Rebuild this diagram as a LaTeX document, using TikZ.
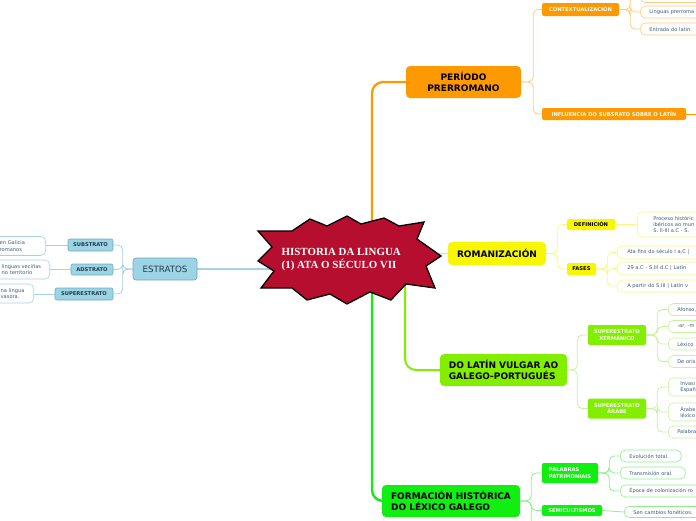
\documentclass[tikz,border=0pt]{standalone}
\usepackage{fontspec}
\setmainfont{DejaVu Sans}
\newfontfamily\rootfont{Liberation Serif}
\usetikzlibrary{backgrounds}
\definecolor{cOr}{HTML}{FF9900}
\definecolor{cOrL}{HTML}{FFCC80}
\definecolor{cYe}{HTML}{F7F700}
\definecolor{cYeL}{HTML}{F8F880}
\definecolor{cLi}{HTML}{82EE00}
\definecolor{cLiL}{HTML}{C6F29C}
\definecolor{cGr}{HTML}{11EE11}
\definecolor{cGrL}{HTML}{8EEE8E}
\definecolor{cBl}{HTML}{9DD4E5}
\definecolor{cBlD}{HTML}{6FA9C0}
\definecolor{cBlL}{HTML}{A8D2E3}
\definecolor{cRed}{HTML}{B50E2E}
\definecolor{cTxt}{HTML}{3C5C7C}
\definecolor{cDark}{HTML}{243A4A}
\tikzset{
  mainnode/.style={rounded corners=4pt, align=center, font=\fontsize{9}{11}\selectfont\bfseries, inner sep=0pt, text=black},
  subnode/.style={rounded corners=2pt, align=center, font=\fontsize{5.2}{6.4}\selectfont\bfseries, inner sep=0pt},
  bsub/.style={subnode, draw=cBlD, fill=cBl, text=cDark, line width=0.6pt},
  leaf/.style={draw, fill=white, rounded corners=5pt, line width=0.6pt, inner ysep=0pt, align=left, font=\fontsize{5.1}{6.5}\selectfont, text=cTxt},
  conn/.style={rounded corners=5pt, line width=0.8pt},
  trunk/.style={rounded corners=11pt, line width=2.2pt},
}
\begin{document}
\begin{tikzpicture}[x=1pt,y=-1pt]
\useasboundingbox (0,0) rectangle (696,520);
\clip (0,0) rectangle (696,520);
\coordinate (rc) at (349,262);
% ---------- orange branch
\node[mainnode, fill=cOr, minimum width=115, minimum height=32] (peri) at (463.5,82) {PERÍODO\\PRERROMANO};
\node[subnode, fill=cOr, text=white, minimum width=77, minimum height=13] (ctx) at (580.5,9.5) {CONTEXTUALIZACIÓN};
\node[subnode, fill=cOr, text=white, minimum width=144, minimum height=12] (infl) at (614,114) {INFLUENCIA DO SUBSRATO SOBRE O LATÍN};
\node[leaf, draw=cOrL, anchor=west, minimum height=13, inner xsep=9pt, text width=62pt] (lo0) at (640,-4) {};
\node[leaf, draw=cOrL, anchor=west, minimum height=12, inner xsep=9pt, text width=62pt] (lo1) at (640,12) {Linguas~prerroma};
\node[leaf, draw=cOrL, anchor=west, minimum height=12, inner xsep=9pt, text width=62pt] (lo2) at (640,29) {Entrada~do~latín};
\coordinate (offR) at (705,114);
% ---------- yellow branch
\node[mainnode, fill=cYe, minimum width=98, minimum height=23] (roman) at (497,253.5) {ROMANIZACIÓN};
\node[subnode, fill=cYe, text=black, minimum width=48, minimum height=11] (def) at (591,224.5) {DEFINICIÓN};
\node[subnode, fill=cYe, text=black, minimum width=29, minimum height=12] (fases) at (581.5,269) {FASES};
\node[leaf, draw=cYeL, anchor=west, minimum height=25, inner xsep=16pt, text width=71pt, font=\fontsize{5.1}{6.3}\selectfont] (ldef) at (637,224.5) {Proceso~históric\\ibéricos~ao~mun\\S.~II-III~a.C~-~S.};
\node[leaf, draw=cYeL, anchor=west, minimum height=13, inner xsep=10pt, text width=83pt] (ly1) at (617,252.5) {Ata~fins~do~século~I~a.C~|};
\node[leaf, draw=cYeL, anchor=west, minimum height=13, inner xsep=10pt, text width=83pt] (ly2) at (617,268.5) {29~a.C~-~S.III~d.C~|~Latín};
\node[leaf, draw=cYeL, anchor=west, minimum height=12, inner xsep=10pt, text width=83pt] (ly3) at (617,286) {A~partir~do~S.III~|~Latín~v};
% ---------- lime branch
\node[mainnode, fill=cLi, align=left, minimum width=127, minimum height=32] (latin) at (503.5,370) {DO LATÍN VULGAR AO\\GALEGO-PORTUGUÉS};
\node[subnode, fill=cLi, text=white, minimum width=58, minimum height=20] (xer) at (617,335) {SUPERESTRATO\\XERMÁNICO};
\node[subnode, fill=cLi, text=white, minimum width=58, minimum height=20] (ara) at (617,408.5) {SUPERESTRATO\\ÁRABE};
\node[leaf, draw=cLiL, anchor=west, minimum height=12, inner xsep=9pt, text width=54pt] (lx1) at (668,309.5) {Afonso,};
\node[leaf, draw=cLiL, anchor=west, minimum height=12, inner xsep=9pt, text width=54pt] (lx2) at (668,326.5) {-ar,~-m};
\node[leaf, draw=cLiL, anchor=west, minimum height=12, inner xsep=9pt, text width=54pt] (lx3) at (668,344) {Léxico};
\node[leaf, draw=cLiL, anchor=west, minimum height=12, inner xsep=9pt, text width=54pt] (lx4) at (668,361.5) {De~orix};
\node[leaf, draw=cLiL, anchor=west, minimum height=18, inner xsep=12pt, text width=48pt] (la1) at (668,387) {Invasi\\Españ};
\node[leaf, draw=cLiL, anchor=west, minimum height=18, inner xsep=12pt, text width=48pt] (la2) at (668,412) {Árabe\\léxico};
\node[leaf, draw=cLiL, anchor=west, minimum height=12, inner xsep=9pt, text width=54pt] (la3) at (668,432) {Palabra};
% ---------- green branch
\node[mainnode, fill=cGr, align=left, minimum width=138, minimum height=32] (form) at (451,501) {FORMACIÓN HISTÓRICA\\DO LÉXICO GALEGO};
\node[subnode, fill=cGr, text=white, align=left, minimum width=56, minimum height=20] (pal) at (570,473) {PALABRAS\\PATRIMONIAIS};
\node[subnode, fill=cGr, text=white, minimum width=60, minimum height=11] (semi) at (572,510.5) {SEMICULTISMOS};
\node[leaf, draw=cGrL, anchor=west, minimum height=12, inner xsep=9pt, text width=43pt] (lg1) at (620,456) {Evolución~total.};
\node[leaf, draw=cGrL, anchor=west, minimum height=12, inner xsep=9pt, text width=47pt] (lg2) at (620,473) {Transmisión~oral.};
\node[leaf, draw=cGrL, anchor=west, minimum height=12, inner xsep=9pt, text width=82pt] (lg3) at (620,491) {Época~de~colonización~ro};
\node[leaf, draw=cGrL, anchor=west, minimum height=11, inner xsep=9pt, text width=82pt] (lg4) at (624,512) {Sen~cambios~fonéticos.};
\coordinate (offB) at (542,535);
% ---------- blue branch
\node[draw=cBlD, fill=cBl, rounded corners=3pt, line width=0.7pt, font=\fontsize{8.7}{10}\selectfont, text=cDark, minimum width=64, minimum height=22, inner sep=0pt] (estr) at (165,269) {ESTRATOS};
\node[bsub, minimum width=45, minimum height=12] (sbs) at (90.5,245) {SUBSTRATO};
\node[bsub, minimum width=42, minimum height=11] (ads) at (92,269.5) {ADSTRATO};
\node[bsub, minimum width=58, minimum height=12] (sup) at (84,294) {SUPERESTRATO};
\node[leaf, draw=cBlL, anchor=east, minimum height=19, inner xsep=8pt, text width=38pt] (lb1) at (46,246) {en~Galicia\\romanos};
\node[leaf, draw=cBlL, anchor=east, minimum height=19, inner xsep=8pt, text width=40pt] (lb2) at (50,269.5) {linguas~veciñas\\no~territorio};
\node[leaf, draw=cBlL, anchor=east, minimum height=19, inner xsep=8pt, text width=25pt] (lb3) at (34,293.5) {na~lingua\\vasora.};
% ---------- connectors
\begin{scope}[on background layer]
\draw[trunk, cOr] ([xshift=23pt]rc) |- (peri.west);
\draw[trunk, cGr, line width=2.4pt] ([xshift=23pt]rc) |- (form.west);
\draw[trunk, cLi, line width=2pt] ([xshift=56pt]rc) |- (latin.west);
\draw[cYe, line width=1.2pt] (roman.west) -- (roman.west -| rc);
\draw[cBlL, line width=1.4pt] (estr.east) -- (estr.east -| rc);
% orange
\draw[conn, cOrL] (peri.east) -- ++(12,0) |- (ctx.west);
\draw[conn, cOrL] (peri.east) -- ++(12,0) |- (infl.west);
\draw[conn, cOrL] (ctx.east) -- ++(11,0) |- (lo0.west);
\draw[conn, cOrL] (ctx.east) -- ++(11,0) |- (lo1.west);
\draw[conn, cOrL] (ctx.east) -- ++(11,0) |- (lo2.west);
\draw[conn, cOr] (infl.east) -- (offR);
% yellow
\draw[conn, cYeL] (roman.east) -- ++(11,0) |- (def.west);
\draw[conn, cYeL] (roman.east) -- ++(11,0) |- (fases.west);
\draw[conn, cYeL] (def.east) -- (ldef.west);
\draw[conn, cYeL] (fases.east) -- ++(11,0) |- (ly1.west);
\draw[conn, cYeL] (fases.east) -- ++(11,0) |- (ly2.west);
\draw[conn, cYeL] (fases.east) -- ++(11,0) |- (ly3.west);
% lime
\draw[conn, cLiL] (latin.east) -- ++(10,0) |- (xer.west);
\draw[conn, cLiL] (latin.east) -- ++(10,0) |- (ara.west);
\foreach \t in {lx1,lx2,lx3,lx4} \draw[conn, cLiL] (xer.east) -- ++(11,0) |- (\t.west);
\foreach \t in {la1,la2,la3} \draw[conn, cLiL] (ara.east) -- ++(11,0) |- (\t.west);
% green
\draw[conn, cGrL] (form.east) -- ++(11,0) |- (pal.west);
\draw[conn, cGrL] (form.east) -- ++(11,0) |- (semi.west);
\draw[conn, cGrL] (form.east) -- ++(11,0) |- (offB);
\foreach \t in {lg1,lg2,lg3} \draw[conn, cGrL] (pal.east) -- ++(11,0) |- (\t.west);
\draw[conn, cGrL] (semi.east) -- (lg4.west);
% blue
\foreach \t in {sbs,ads,sup} \draw[conn, cBlL] (estr.west) -- ++(-10,0) |- (\t.east);
\draw[conn, cBlL] (sbs.west) -- (sbs.west -| lb1.east);
\draw[conn, cBlL] (ads.west) -- (lb2.east);
\draw[conn, cBlL] (sup.west) -- (sup.west -| lb3.east);
\end{scope}
% ---------- central star
\filldraw[fill=cRed, draw=black, line width=1.3pt, line join=miter]
  (258,231) -- (292,231) -- (310,219) -- (327,226) -- (347,216) -- (361,224) -- (384,218)
  -- (399,226) -- (424,222) -- (417,239) -- (441,256) -- (426,266) -- (435,288)
  -- (406,284) -- (391,300) -- (370,292) -- (347,304) -- (330,294) -- (307,300)
  -- (292,288) -- (261,288) -- (274,271) -- (258,261) -- (272,247) -- cycle;
\node[font=\rootfont\bfseries\fontsize{10.9}{13.5}\selectfont, text=white, align=left, inner sep=0pt, anchor=west] (root) at (281.5,259.5) {HISTORIA DA LINGUA\\(1) ATA O SÉCULO VII};
\end{tikzpicture}
\end{document}
